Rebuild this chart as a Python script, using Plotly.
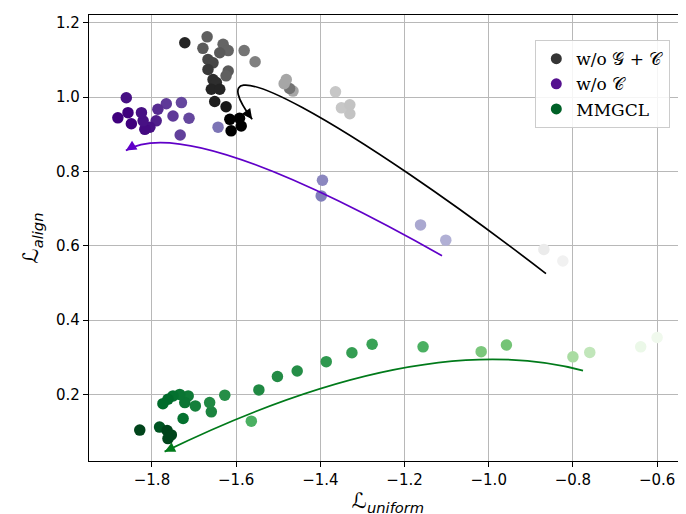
import plotly.graph_objects as go

# ---------------- data ----------------
# w/o G + C  (grey group); "prog" = training progress (light -> dark)
gc_x = [-0.824, -0.869, -1.330, -1.350, -1.330, -1.364, -1.465, -1.473, -1.486, -1.481,
        -1.555, -1.581, -1.631, -1.619, -1.669, -1.679, -1.639, -1.667, -1.655, -1.619,
        -1.624, -1.667, -1.655, -1.647, -1.659, -1.639, -1.651, -1.624, -1.615, -1.592,
        -1.588, -1.612, -1.722]
gc_y = [0.559, 0.590, 0.955, 0.971, 0.979, 1.014, 1.016, 1.023, 1.036, 1.047,
        1.095, 1.125, 1.142, 1.125, 1.162, 1.131, 1.119, 1.101, 1.092, 1.070,
        1.057, 1.074, 1.047, 1.039, 1.021, 1.021, 0.988, 0.974, 0.940, 0.943,
        0.922, 0.909, 1.146]
gc_prog = [0.12, 0.15, 0.35, 0.33, 0.35, 0.33, 0.45, 0.62, 0.45, 0.45,
           0.58, 0.62, 0.68, 0.68, 0.70, 0.72, 0.72, 0.78, 0.78, 0.72,
           0.70, 0.82, 0.85, 0.85, 0.88, 0.88, 0.90, 0.92, 1.00, 1.00,
           1.00, 1.00, 0.88]

# w/o C (purple group)
c_x = [-1.102, -1.162, -1.398, -1.395, -1.643, -1.712, -1.733, -1.730, -1.750, -1.766,
       -1.786, -1.790, -1.805, -1.817, -1.821, -1.825, -1.849, -1.857, -1.881, -1.861]
c_y = [0.615, 0.656, 0.734, 0.776, 0.919, 0.943, 0.898, 0.985, 0.949, 0.982,
       0.967, 0.936, 0.919, 0.913, 0.936, 0.958, 0.928, 0.958, 0.944, 0.998]
c_prog = [0.42, 0.45, 0.62, 0.58, 0.65, 0.78, 0.80, 0.78, 0.82, 0.82,
          0.86, 0.90, 0.95, 0.97, 0.95, 0.95, 1.00, 1.00, 1.00, 0.95]

# MMGCL (green group)
m_x = [-0.600, -0.639, -0.760, -0.800, -0.958, -1.018, -1.156, -1.277, -1.325, -1.386,
       -1.455, -1.502, -1.546, -1.564, -1.627, -1.659, -1.663, -1.697, -1.714, -1.722,
       -1.726, -1.734, -1.750, -1.762, -1.774, -1.782, -1.764, -1.754, -1.762, -1.829]
m_y = [0.353, 0.328, 0.313, 0.301, 0.333, 0.315, 0.328, 0.335, 0.312, 0.288,
       0.263, 0.248, 0.212, 0.128, 0.198, 0.153, 0.178, 0.169, 0.196, 0.178,
       0.135, 0.200, 0.196, 0.187, 0.175, 0.112, 0.103, 0.091, 0.081, 0.104]
m_prog = [0.05, 0.08, 0.27, 0.35, 0.50, 0.48, 0.60, 0.66, 0.68, 0.70,
          0.74, 0.75, 0.76, 0.60, 0.74, 0.78, 0.76, 0.80, 0.82, 0.84,
          0.86, 0.84, 0.86, 0.88, 0.88, 0.95, 1.00, 1.00, 1.00, 1.00]

series_names = ["w/o 𝒢 + 𝒞", "w/o 𝒞", "MMGCL"]

# trend arrows (start, control(s), tip) in data units
arrow_gc = [(-0.864, 0.525), (-1.323, 0.925), (-1.716, 1.178), (-1.562, 0.940)]
arrow_c = [(-1.111, 0.573), (-1.714, 0.958), (-1.862, 0.856)]
arrow_m = [(-0.776, 0.264), (-1.163, 0.381), (-1.770, 0.046)]

x_ticks = [-1.8, -1.6, -1.4, -1.2, -1.0, -0.8, -0.6]
y_ticks = [0.2, 0.4, 0.6, 0.8, 1.0, 1.2]

# ---------------- styling ----------------
def scale(cols):
    n = len(cols) - 1
    return [[i / n, c] for i, c in enumerate(cols)]

greys = scale(["#ffffff", "#f0f0f0", "#d9d9d9", "#bdbdbd", "#969696", "#737373", "#525252", "#252525", "#000000"])
purples = scale(["#fcfbfd", "#efedf5", "#dadaeb", "#bcbddc", "#9e9ac8", "#807dba", "#6a51a3", "#54278f", "#3f007d"])
greens = scale(["#f7fcf5", "#e5f5e0", "#c7e9c0", "#a1d99b", "#74c476", "#41ab5d", "#238b45", "#006d2c", "#00441b"])

legend_cols = ["#353535", "#55118f", "#006127"]

fig = go.Figure()
for xs, ys, pr, cs in [(gc_x, gc_y, gc_prog, greys), (c_x, c_y, c_prog, purples), (m_x, m_y, m_prog, greens)]:
    fig.add_trace(go.Scatter(
        x=xs, y=ys, mode="markers", showlegend=False, hoverinfo="x+y",
        marker=dict(size=11.5, color=pr, colorscale=cs, cmin=0, cmax=1, line=dict(width=0)),
    ))

for name, col in zip(series_names, legend_cols):
    fig.add_trace(go.Scatter(x=[None], y=[None], mode="markers", name=name,
                             marker=dict(size=11, color=col)))

def fmt(p):
    return f"{p[0]},{p[1]}"

paths = [
    ("M " + fmt(arrow_gc[0]) + " C " + fmt(arrow_gc[1]) + " " + fmt(arrow_gc[2]) + " " + fmt(arrow_gc[3]), "#000000", arrow_gc[2], arrow_gc[3], 0.08),
    ("M " + fmt(arrow_c[0]) + " Q " + fmt(arrow_c[1]) + " " + fmt(arrow_c[2]), "#6000c8", arrow_c[1], arrow_c[2], 0.12),
    ("M " + fmt(arrow_m[0]) + " Q " + fmt(arrow_m[1]) + " " + fmt(arrow_m[2]), "#007a1a", arrow_m[1], arrow_m[2], 0.03),
]
for path, col, ctrl, tip, f in paths:
    fig.add_shape(type="path", path=path, xref="x", yref="y",
                  line=dict(color=col, width=1.7), layer="above")
    ax = tip[0] + f * (ctrl[0] - tip[0])
    ay = tip[1] + f * (ctrl[1] - tip[1])
    fig.add_annotation(x=tip[0], y=tip[1], ax=ax, ay=ay, xref="x", yref="y",
                       axref="x", ayref="y", text="", showarrow=True,
                       arrowhead=2, arrowsize=1.3, arrowwidth=1.6, arrowcolor=col,
                       standoff=0, startstandoff=0)

axis_common = dict(
    showgrid=True, gridcolor="#b8b8b8", gridwidth=1.2,
    showline=True, linecolor="black", linewidth=1.2, mirror=True,
    ticks="outside", ticklen=5, tickwidth=1.2, tickcolor="black",
    tickfont=dict(family="DejaVu Sans", size=15, color="black"),
    zeroline=False, tickformat=".1f", automargin=False,
)

fig.update_layout(
    width=686, height=514,
    margin=dict(l=81, r=7, t=7, b=61),
    paper_bgcolor="white", plot_bgcolor="white",
    xaxis=dict(range=[-1.9496, -0.529], tickvals=x_ticks,
               title=dict(text="ℒ<sub><i>uniform</i></sub>",
                          font=dict(family="DejaVu Sans", size=21, color="black"), standoff=0),
               **axis_common),
    yaxis=dict(range=[0.0208, 1.2207], tickvals=y_ticks,
               title=dict(text="ℒ<sub><i>align</i></sub>",
                          font=dict(family="DejaVu Sans", size=21, color="black"), standoff=11),
               **axis_common),
    legend=dict(x=0.746, y=0.944, xanchor="left", yanchor="top",
                bgcolor="rgba(255,255,255,0.85)", bordercolor="#cccccc", borderwidth=1.2,
                font=dict(family="DejaVu Serif", size=17, color="black"),
                itemwidth=30, tracegroupgap=0),
)

fig.write_html("out.html")
